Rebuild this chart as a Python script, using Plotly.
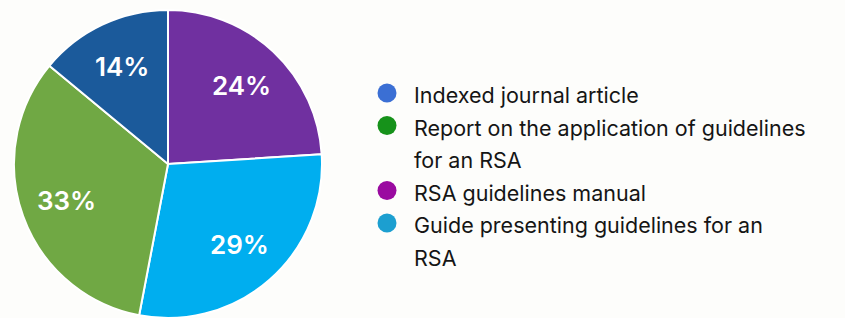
import math
import plotly.graph_objects as go

# Pie data (clockwise from 12 o'clock)
slice_labels = ["RSA guidelines manual", "Guide presenting guidelines for an RSA",
                "Report on the application of guidelines for an RSA", "Indexed journal article"]
slice_values = [24, 29, 33, 14]
slice_colors = ["#7030a0", "#00aeef", "#70a844", "#1b5a9b"]

# Legend (as shown in the picture)
legend_lines = [["Indexed journal article"],
                ["Report on the application of guidelines", "for an RSA"],
                ["RSA guidelines manual"],
                ["Guide presenting guidelines for an", "RSA"]]
legend_colors = ["#3b6fd4", "#16921a", "#9a0aa0", "#1c9fd0"]

W, H = 845, 318
CX, CY, R = 168, 164, 154
fig = go.Figure()

fig.add_trace(go.Pie(
    labels=slice_labels, values=slice_values, sort=False, direction="clockwise",
    rotation=0, marker=dict(colors=slice_colors, line=dict(color="white", width=2)),
    textinfo="none",
    domain=dict(x=[(CX - R) / W, (CX + R) / W], y=[0, 2 * R / H]),
    showlegend=False, hoverinfo="label+percent",
))

# percentage labels placed at slice mid-angles
total = sum(slice_values)
cum = 0
for v in slice_values:
    mid = (cum + v / 2) / total * 2 * math.pi
    cum += v
    rr = 0.7 * R
    fig.add_annotation(x=CX + rr * math.sin(mid), y=CY - rr * math.cos(mid),
                       xref="x", yref="y", text=f"{round(100 * v / total)}%",
                       showarrow=False, xanchor="center", yanchor="middle",
                       font=dict(size=26, color="white", family="Inter", weight=600))

# legend markers on a hidden axis in pixel-like coordinates
marker_y = []
text_rows = []
row = 0
line_h = 32.5
y0 = 95
for i, lines in enumerate(legend_lines):
    marker_y.append(y0 + row * line_h - 2)
    for j, ln in enumerate(lines):
        text_rows.append((ln, y0 + (row + j) * line_h))
    row += len(lines)

fig.add_trace(go.Scatter(
    x=[387] * len(legend_colors), y=marker_y, mode="markers",
    marker=dict(size=19, color=legend_colors), showlegend=False, hoverinfo="skip",
    xaxis="x", yaxis="y",
))
for ln, yy in text_rows:
    fig.add_annotation(x=412, y=yy, xref="x", yref="y", text=ln, showarrow=False,
                       xanchor="left", yanchor="middle",
                       font=dict(size=21.5, color="#151515", family="Inter"))

fig.update_layout(
    width=W, height=H, margin=dict(l=0, r=0, t=0, b=0),
    paper_bgcolor="#fdfdfb", plot_bgcolor="rgba(0,0,0,0)",
    xaxis=dict(range=[0, W], visible=False, fixedrange=True),
    yaxis=dict(range=[H, 0], visible=False, fixedrange=True),
)
fig.write_html("out.html", config={"displayModeBar": False},
               post_script="document.body.style.margin='0';")
